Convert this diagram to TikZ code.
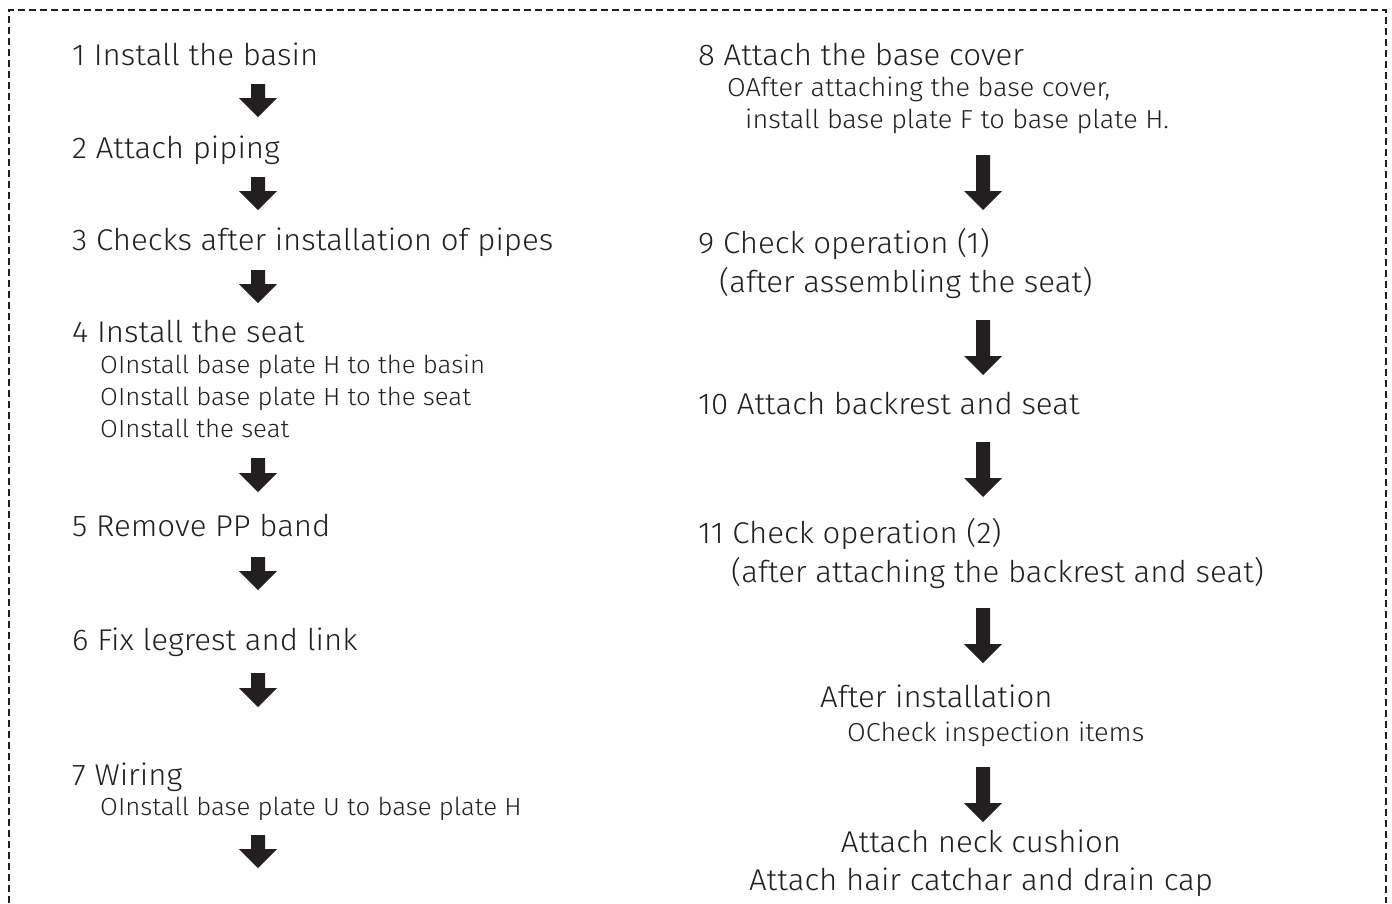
\documentclass[tikz,border=0pt]{standalone}
\usepackage{fontspec}
\setmainfont{Fira Sans}[UprightFont=* Light,FakeStretch=1.04]
\definecolor{ink}{HTML}{231F20}
\newcommand\flowarrow[4]{% name, x, top, bottom
  \fill[ink] (#2-7,#3) -- (#2+7,#3) -- (#2+7,#4-19) -- (#2+19,#4-19) -- (#2,#4) -- (#2-19,#4-19) -- (#2-7,#4-19) -- cycle;
  \coordinate (#1) at (#2,#3);}
\begin{document}
\begin{tikzpicture}[x=1pt,y=-1pt,
  big/.style={anchor=base west,inner sep=0pt,text=ink,font=\fontsize{30}{32}\selectfont},
  bigc/.style={anchor=base,inner sep=0pt,text=ink,font=\fontsize{30}{32}\selectfont},
  small/.style={anchor=base west,inner sep=0pt,text=ink,font=\fontsize{24.8}{26}\selectfont},
  smallr/.style={anchor=base west,inner sep=0pt,text=ink,font=\fontsize{26}{28}\selectfont},
  frame/.style={draw=ink,line width=1.2pt,dash pattern=on 7pt off 4pt}]
\useasboundingbox (0,0) rectangle (1392,903);
\draw[frame] (9,903) -- (9,10) -- (1386,10) -- (1386,903);
% left column
\node[big] (s1) at (72,65) {1 Install the basin};
\flowarrow{a1}{258}{84}{117}
\node[big] (s2) at (72,158) {2 Attach piping};
\flowarrow{a2}{258}{177}{210}
\node[big] (s3) at (72,250) {3 Checks after installation of pipes};
\flowarrow{a3}{258}{270}{303}
\node[big] (s4) at (72,342) {4 Install the seat};
\node[small] (s4a) at (100,373) {OInstall base plate H to the basin};
\node[small] (s4b) at (100,405) {OInstall base plate H to the seat};
\node[small] (s4c) at (100,437) {OInstall the seat};
\flowarrow{a4}{258}{458}{492}
\node[big] (s5) at (72,536) {5 Remove PP band};
\flowarrow{a5}{258}{557}{590}
\node[big] (s6) at (72,650) {6 Fix legrest and link};
\flowarrow{a6}{258}{673}{707}
\node[big] (s7) at (72,785) {7 Wiring};
\node[small] (s7a) at (100,815) {OInstall base plate U to base plate H};
\flowarrow{a7}{258}{835}{868}
% right column
\node[big] (s8) at (698,65) {8 Attach the base cover};
\node[smallr] (s8a) at (727,96) {OAfter attaching the base cover,};
\node[smallr] (s8b) at (745,128) {install base plate F to base plate H.};
\flowarrow{a8}{983}{155}{210}
\node[big] (s9) at (698,253) {9 Check operation (1)};
\node[big] (s9a) at (719,292) {(after assembling the seat)};
\flowarrow{a9}{983}{320}{375}
\node[big] (s10) at (698,414) {10 Attach backrest and seat};
\flowarrow{a10}{983}{442}{497}
\node[big] (s11) at (698,543) {11 Check operation (2)};
\node[big] (s11a) at (731,582) {(after attaching the backrest and seat)};
\flowarrow{a11}{983}{608}{663}
\node[big] (s12) at (820,707) {After installation};
\node[smallr] (s12a) at (847,741) {OCheck inspection items};
\flowarrow{a12}{983}{767}{822}
\node[bigc] (s13) at (981,852) {Attach neck cushion};
\node[bigc] (s13a) at (981,890) {Attach hair catchar and drain cap};
\end{tikzpicture}
\end{document}
